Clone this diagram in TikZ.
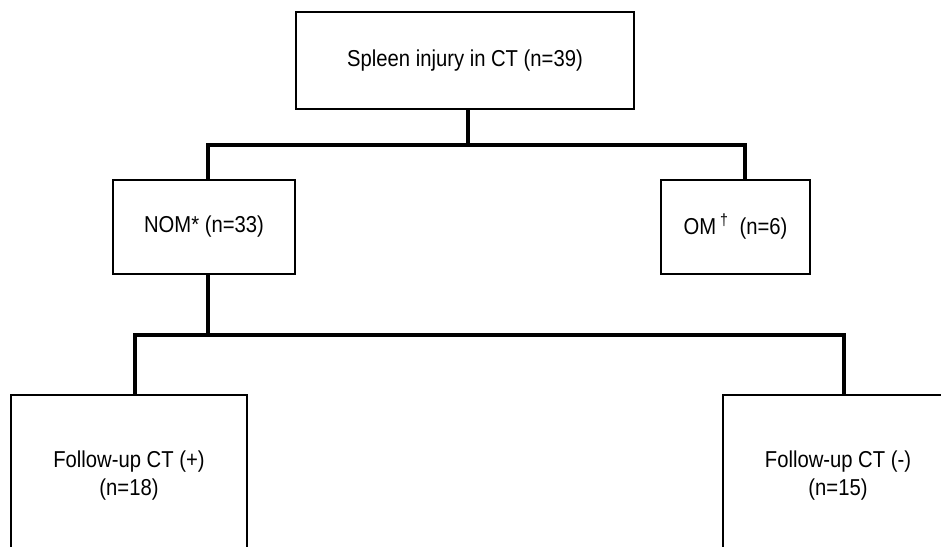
\documentclass[tikz,border=0pt]{standalone}
\usepackage{fontspec}
\setmainfont{Liberation Sans}[FakeStretch=0.88]
\begin{document}
\begin{tikzpicture}[x=1pt,y=-1pt,
  box/.style={draw=black,line width=2.2pt,fill=white,align=center,inner sep=0pt,
    font=\fontsize{23}{28}\selectfont},
  conn/.style={draw=black,line width=4pt,line cap=rect}]
\useasboundingbox (0,0) rectangle (941,546);
\clip (0,0) rectangle (941,546);
\node[box,minimum width=338pt,minimum height=97pt] (top) at (465,60.5) {Spleen injury in CT (n=39)};
\node[box,minimum width=182pt,minimum height=94pt] (nom) at (204,227) {NOM* (n=33)};
\node[box,minimum width=149pt,minimum height=94pt] (om) at (735.5,227) {OM\,\textsuperscript{†}\ \ (n=6)};
\node[box,minimum width=236pt,minimum height=162pt] (bl) at (129,476) {Follow-up CT (+)\\(n=18)};
\node[box,minimum width=230pt,minimum height=162pt] (br) at (838,476) {Follow-up CT (-)\\(n=15)};
\draw[conn] ([xshift=3pt]top.south) -- ++(0,35) coordinate (j1);
\draw[conn] ([xshift=4pt]nom.north) |- (j1) -| ([xshift=9.5pt]om.north);
\draw[conn] ([xshift=4pt]nom.south) -- ++(0,60) coordinate (j2);
\draw[conn] ([xshift=6pt]bl.north) |- (j2) -| ([xshift=6pt]br.north);
\end{tikzpicture}
\end{document}
